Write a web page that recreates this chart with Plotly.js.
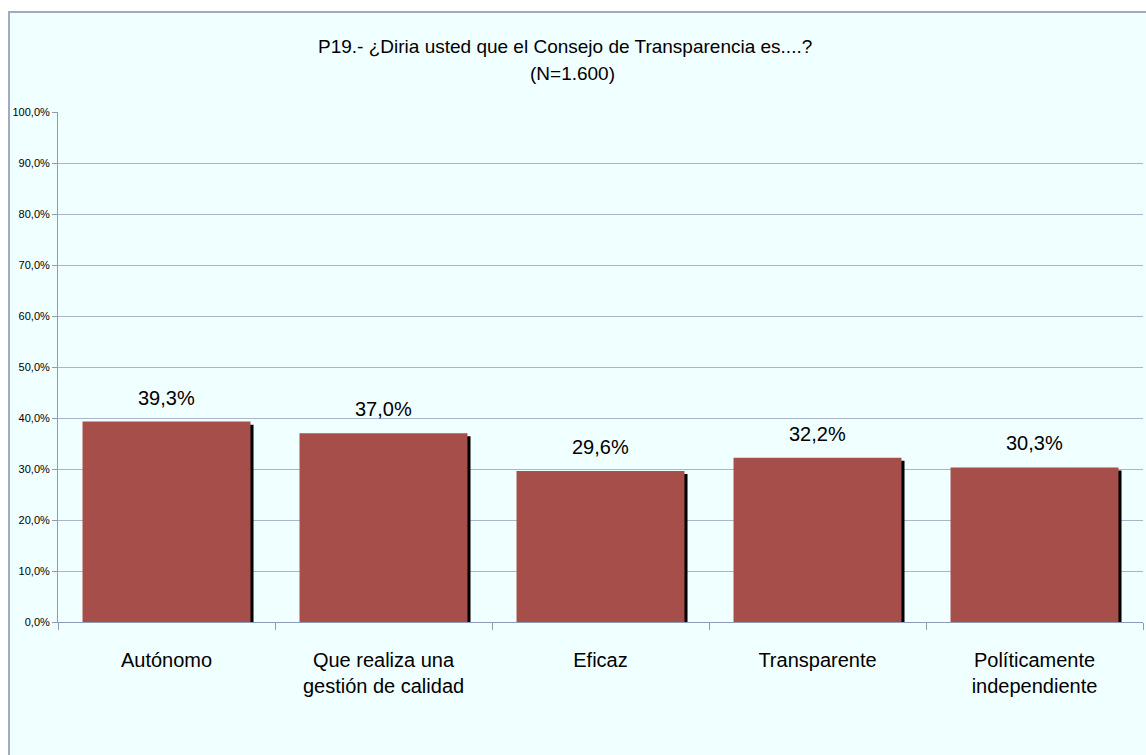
<!DOCTYPE html>
<html>
<head>
<meta charset="utf-8">
<script src="https://cdn.plot.ly/plotly-3.0.1.min.js"></script>
<style>
  html, body { margin: 0; padding: 0; background: #ffffff; overflow: hidden; }
  #frame {
    position: absolute; left: 8px; top: 11px;
    width: 1150px; height: 760px;
    border-left: 2px solid #a3aac0; border-top: 2px solid #a3aac0;
    background: #f0ffff;
  }
  #chart { position: absolute; left: 0; top: 0; width: 1136px; height: 742px; }
</style>
</head>
<body>
<div id="frame"><div id="chart"></div></div>
<script>
// ---- data ----
const categories = ["Autónomo", "Que realiza una<br>gestión de calidad", "Eficaz", "Transparente", "Políticamente<br>independiente"];
const values = [39.3, 37.0, 29.6, 32.2, 30.3];
const valueLabels = ["39,3%", "37,0%", "29,6%", "32,2%", "30,3%"];
const titleLine1 = "P19.- ¿Diria usted que el Consejo de Transparencia es....?";
const titleLine2 = "(N=1.600)";

// ---- style ----
const FONT = "'Liberation Sans', Arial, sans-serif";
const BAR_W = 0.774;
const SHADOW_DX = 0.014;   // horizontal shadow shift (category units)
const SHADOW_DROP = 0.6;   // shadow top drop (axis units)

const shadow = {
  type: 'bar', x: categories, y: values.map(v => v - SHADOW_DROP),
  width: BAR_W, offset: -BAR_W / 2 + SHADOW_DX,
  marker: { color: '#000000', line: { width: 0 } },
  hoverinfo: 'skip', showlegend: false
};
const bars = {
  type: 'bar', x: categories, y: values,
  width: BAR_W, offset: -BAR_W / 2,
  marker: { color: '#a64f4a', line: { width: 0 } },
  showlegend: false
};

const annotations = categories.map((c, i) => ({
  x: c, y: values[i], xref: 'x', yref: 'y',
  text: valueLabels[i], showarrow: false,
  yanchor: 'bottom', yshift: 11,
  font: { family: FONT, size: 20, color: '#000000' }
}));
annotations.push({
  text: titleLine1, xref: 'paper', yref: 'paper', x: 0.467, y: 1.129,
  xanchor: 'center', yanchor: 'middle', showarrow: false,
  font: { family: FONT, size: 19, color: '#000000' }
});
annotations.push({
  text: titleLine2, xref: 'paper', yref: 'paper', x: 0.474, y: 1.076,
  xanchor: 'center', yanchor: 'middle', showarrow: false,
  font: { family: FONT, size: 19, color: '#000000' }
});

const layout = {
  width: 1136, height: 742,
  paper_bgcolor: 'rgba(0,0,0,0)', plot_bgcolor: 'rgba(0,0,0,0)',
  margin: { l: 48, r: 3, t: 99, b: 133 },
  separators: ',.',
  barmode: 'overlay',
  showlegend: false,
  xaxis: {
    type: 'category', range: [-0.5, 4.5],
    showline: true, linecolor: '#8f9bb3', linewidth: 1,
    ticks: 'outside', tickson: 'boundaries', ticklen: 7, tickcolor: '#8f9bb3',
    showgrid: false, zeroline: false,
    tickfont: { family: FONT, size: 20, color: '#000000' },
    ticklabelstandoff: 20
  },
  yaxis: {
    range: [0, 100], dtick: 10, tick0: 0,
    tickformat: '.1f', ticksuffix: '%',
    showline: true, linecolor: '#8f9bb3', linewidth: 1,
    ticks: 'outside', ticklen: 5, tickcolor: '#8f9bb3',
    showgrid: true, gridcolor: '#a9b5c8', gridwidth: 1,
    zeroline: false,
    tickfont: { family: FONT, size: 11, color: '#000000' }
  },
  annotations: annotations
};

Plotly.newPlot('chart', [shadow, bars], layout, { displayModeBar: false, staticPlot: true });
</script>
</body>
</html>
